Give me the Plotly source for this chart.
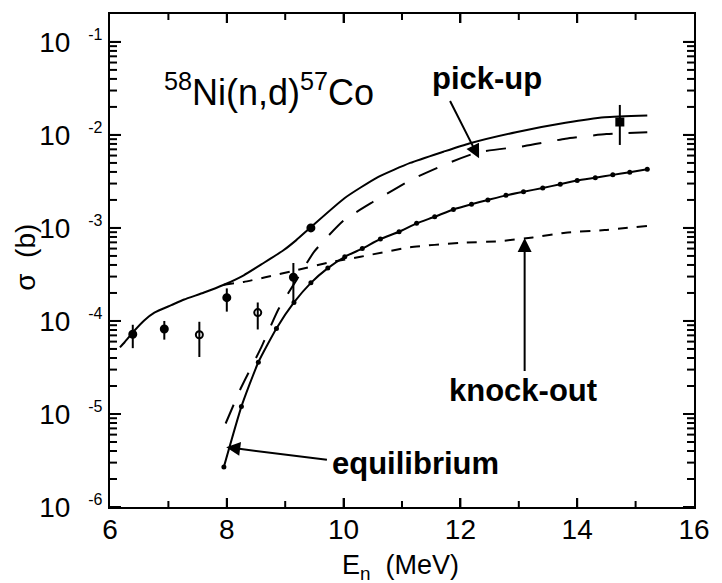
import numpy as np
import plotly.graph_objects as go

# Calculated 58Ni(n,d)57Co cross sections (barn) versus neutron energy (MeV)
e_total = [6.17, 6.25, 6.42, 6.59, 6.76, 7.05, 7.27, 7.61, 7.95, 8.29, 8.63,
           8.97, 9.19, 9.44, 10.02, 10.58, 11.14, 11.71, 12.15, 12.95, 13.80,
           14.47, 15.20]
sig_total = [5.2e-5, 5.9e-5, 7.9e-5, 1.02e-4, 1.23e-4, 1.48e-4, 1.70e-4,
             2.02e-4, 2.45e-4, 3.1e-4, 4.2e-4, 5.75e-4, 7.4e-4, 1.02e-3,
             2.1e-3, 3.5e-3, 5.0e-3, 6.6e-3, 8.1e-3, 1.07e-2, 1.35e-2, 1.55e-2,
             1.62e-2]

e_pickup = [7.98, 8.25, 8.59, 8.88, 9.20, 9.50, 10.0, 10.5, 11.2, 11.8, 12.3,
            13.1, 13.8, 14.5, 15.2]
sig_pickup = [7.9e-6, 1.95e-5, 5.2e-5, 1.32e-4, 2.8e-4, 5.6e-4, 1.2e-3, 1.9e-3,
              3.4e-3, 5.0e-3, 6.5e-3, 7.6e-3, 9.1e-3, 1.02e-2, 1.07e-2]

e_knockout = [7.95, 8.29, 8.66, 9.22, 9.78, 10.29, 11.14, 11.98, 12.66, 13.24,
              13.80, 14.47, 15.20]
sig_knockout = [2.45e-4, 2.63e-4, 2.95e-4, 3.55e-4, 4.3e-4, 4.9e-4, 6.2e-4,
                6.9e-4, 7.2e-4, 7.9e-4, 8.9e-4, 9.5e-4, 1.05e-3]

e_equil = [7.95, 8.25, 8.54, 8.85, 9.15, 9.44, 9.73, 10.02, 10.32, 10.63, 10.95,
           11.25, 11.56, 11.88, 12.19, 12.47, 12.78, 13.08, 13.41, 13.71, 14.00,
           14.31, 14.61, 14.90, 15.20]
sig_equil = [2.7e-6, 1.2e-5, 3.6e-5, 8.3e-5, 1.58e-4, 2.57e-4, 3.7e-4, 4.9e-4,
             6.0e-4, 7.6e-4, 9.1e-4, 1.12e-3, 1.32e-3, 1.58e-3, 1.80e-3, 2.0e-3,
             2.24e-3, 2.45e-3, 2.69e-3, 2.95e-3, 3.24e-3, 3.47e-3, 3.72e-3,
             3.98e-3, 4.27e-3]

# Measured cross sections with their upper / lower error limits (barn)
e_exp = [6.39, 6.93, 7.53, 8.00, 8.53, 9.14, 9.44, 14.73]
sig_exp = [7.2e-5, 8.2e-5, 7.1e-5, 1.78e-4, 1.23e-4, 2.95e-4, 1.0e-3, 1.38e-2]
sig_exp_hi = [9.1e-5, 1.0e-4, 9.8e-5, 2.24e-4, 1.58e-4, 4.2e-4, 1.08e-3, 2.1e-2]
sig_exp_lo = [5.1e-5, 6.3e-5, 4.1e-5, 1.26e-4, 8.1e-5, 1.55e-4, 0.93e-3, 7.8e-3]
exp_symbols = ["circle", "circle", "circle-open", "circle", "circle-open",
               "circle", "circle", "square"]

# Axis ticks
x_range = [6, 16]
x_tick_vals = [6, 8, 10, 12, 14, 16]
x_tick_text = ["6", "8", "10", "12", "14", "16"]
x_minor_vals = [7, 9, 11, 13, 15]
y_log_range = [-6, -0.7]
y_exponents = [-6, -5, -4, -3, -2, -1]
y_tick_vals = [10.0 ** k for k in y_exponents]
y_tick_text = ["10<sup><span style='font-size:16px'>\u00a0\u00a0\u00a0\u00a0%d</span></sup>" % k
               for k in y_exponents]
y_minor_vals = [m * 10.0 ** k for k in y_exponents for m in range(2, 10)
                if np.log10(m * 10.0 ** k) < y_log_range[1]]

INK = "black"
FONT = "Liberation Sans, Arial, Helvetica, sans-serif"

fig = go.Figure()

# total
fig.add_trace(go.Scatter(
    x=e_total, y=sig_total, mode="lines",
    line=dict(color=INK, width=2, shape="spline", smoothing=0.5),
    showlegend=False, hoverinfo="skip"))

# pick-up
fig.add_trace(go.Scatter(
    x=e_pickup, y=sig_pickup, mode="lines",
    line=dict(color=INK, width=2, dash="20px,16px", shape="spline", smoothing=0.5),
    showlegend=False, hoverinfo="skip"))

# knock-out
fig.add_trace(go.Scatter(
    x=e_knockout, y=sig_knockout, mode="lines",
    line=dict(color=INK, width=2, dash="10px,9px", shape="spline", smoothing=0.5),
    showlegend=False, hoverinfo="skip"))

# equilibrium
fig.add_trace(go.Scatter(
    x=e_equil, y=sig_equil, mode="lines+markers",
    line=dict(color=INK, width=2, shape="spline", smoothing=0.5),
    marker=dict(color=INK, size=5, symbol="circle"),
    showlegend=False, hoverinfo="skip"))

# measured points
err_plus = [hi - v for hi, v in zip(sig_exp_hi, sig_exp)]
err_minus = [v - lo for lo, v in zip(sig_exp_lo, sig_exp)]
fig.add_trace(go.Scatter(
    x=e_exp, y=sig_exp, mode="markers",
    marker=dict(color=INK, size=7, symbol=exp_symbols,
                line=dict(color=INK, width=2)),
    error_y=dict(type="data", symmetric=False, array=err_plus,
                 arrayminus=err_minus, width=0, thickness=2, color=INK),
    showlegend=False, hoverinfo="skip"))

# inward tick marks on all four sides of the frame
tick_shapes = []


def x_ticks(values, length):
    for v in values:
        for anchor, sign in ((0, 1), (1, -1)):
            tick_shapes.append(dict(
                type="line", xref="x", x0=v, x1=v, yref="paper",
                ysizemode="pixel", yanchor=anchor, y0=0, y1=sign * length,
                line=dict(color=INK, width=2), layer="above"))


def y_ticks(values, length):
    for v in values:
        for anchor, sign in ((0, 1), (1, -1)):
            tick_shapes.append(dict(
                type="line", yref="y", y0=v, y1=v, xref="paper",
                xsizemode="pixel", xanchor=anchor, x0=0, x1=sign * length,
                line=dict(color=INK, width=2), layer="above"))


x_ticks(x_tick_vals[1:-1], 9)
x_ticks(x_minor_vals, 6)
y_ticks(y_tick_vals, 11)
y_ticks(y_minor_vals, 7)

lg = np.log10
label_font = dict(family=FONT, size=31, color="black")
center = dict(xanchor="center", yanchor="middle", showarrow=False)
arrow = dict(xref="x", yref="y", axref="x", ayref="y", text="", showarrow=True,
             arrowhead=2, arrowsize=1.4, arrowwidth=2, arrowcolor="black",
             standoff=0)
annotations = [
    dict(x=8.72, y=lg(3.06e-2), xref="x", yref="y",
         text="<sup>58</sup>Ni(n,d)<sup>57</sup>Co",
         font=dict(family=FONT, size=36, color=INK), **center),
    dict(x=12.45, y=lg(4.0e-2), xref="x", yref="y",
         text="<b>pick-up</b>", font=label_font, **center),
    dict(x=13.08, y=lg(1.8e-5), xref="x", yref="y",
         text="<b>knock-out</b>", font=label_font, **center),
    dict(x=11.23, y=lg(2.95e-6), xref="x", yref="y",
         text="<b>equilibrium</b>", font=label_font, **center),
    # arrows from the labels to their curves
    dict(x=12.32, y=lg(5.6e-3), ax=11.81, ay=lg(2.4e-2), **arrow),
    dict(x=13.10, y=lg(7.8e-4), ax=13.10, ay=lg(2.8e-5), **arrow),
    dict(x=7.99, y=lg(4.4e-6), ax=9.74, ay=lg(3.2e-6), **arrow),
    # axis titles
    dict(x=0.497, y=-0.122, xref="paper", yref="paper",
         text="E<sub>n</sub>\u00a0\u00a0(MeV)",
         font=dict(family=FONT, size=27, color=INK), **center),
    dict(x=-0.146, y=0.507, xref="paper", yref="paper",
         text="\u03c3\u00a0\u00a0(b)", textangle=-90,
         font=dict(family=FONT, size=28, color=INK), **center),
]

fig.update_layout(
    width=722, height=583,
    margin=dict(l=110, r=23, t=12, b=76),
    plot_bgcolor="white", paper_bgcolor="white",
    xaxis=dict(range=x_range, tickvals=x_tick_vals, ticktext=x_tick_text,
               showline=True, linecolor=INK, linewidth=2, mirror="ticks",
               ticks="inside", ticklen=9, tickwidth=2, tickcolor=INK,
               ticklabelstandoff=-4, showgrid=False, zeroline=False,
               tickfont=dict(family=FONT, size=28, color=INK)),
    yaxis=dict(type="log", range=y_log_range, tickvals=y_tick_vals,
               ticktext=y_tick_text,
               showline=True, linecolor=INK, linewidth=2, mirror="ticks",
               ticks="inside", ticklen=11, tickwidth=2, tickcolor=INK,
               showgrid=False, zeroline=False,
               tickfont=dict(family=FONT, size=28, color=INK)),
    shapes=tick_shapes,
    annotations=annotations,
    showlegend=False,
)

fig.write_html("out.html")
